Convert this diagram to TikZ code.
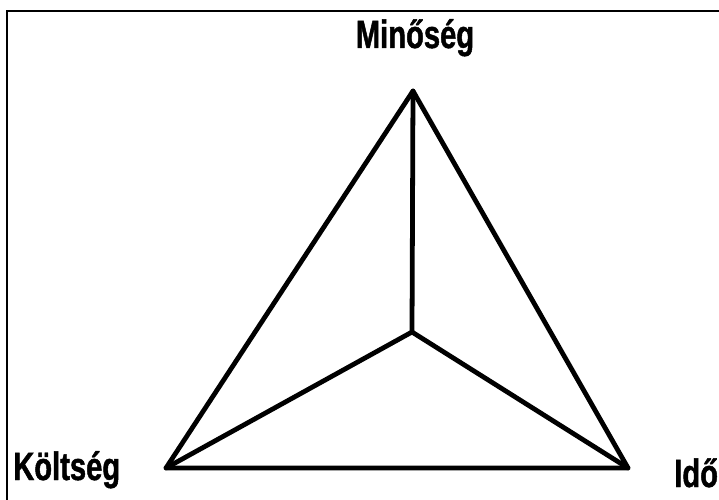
\documentclass[tikz,border=0pt]{standalone}
\usepackage{fontspec}
\newfontfamily\lblfont[FakeStretch=0.74, BoldFeatures={FakeBold=1.2}]{Liberation Sans}
\usepackage{tikz}
\usetikzlibrary{positioning}

\begin{document}
\begin{tikzpicture}[
    x=0.025cm, y=-0.025cm,
    lbl/.style={inner sep=0pt, font=\lblfont\bfseries\fontsize{28}{30}\selectfont},
    edge/.style={line width=3.4pt, line join=round, line cap=round},
    frame/.style={line width=1.4pt}
]
    \useasboundingbox (0,0) rectangle (719,500);

    % partial frame of the scanned figure
    \draw[frame] (7,500) -- (7,11) -- (719,11);

    % corners of the triangle and its centre
    \coordinate (quality) at (413,91);
    \coordinate (cost) at (166,468);
    \coordinate (time) at (628,468);
    \coordinate (mid) at (412,332);

    \draw[edge] (quality) -- (cost) -- (time) -- cycle;
    \draw[edge] (mid) -- (quality);
    \draw[edge] (mid) -- (cost);
    \draw[edge] (mid) -- (time);

    \node[lbl, anchor=base] (qlabel) at (415,48) {Minőség};
    \node[lbl, anchor=base west] (clabel) at (13,480) {Költség};
    \node[lbl, anchor=base west] (tlabel) at (674,487) {Idő};
\end{tikzpicture}
\end{document}
